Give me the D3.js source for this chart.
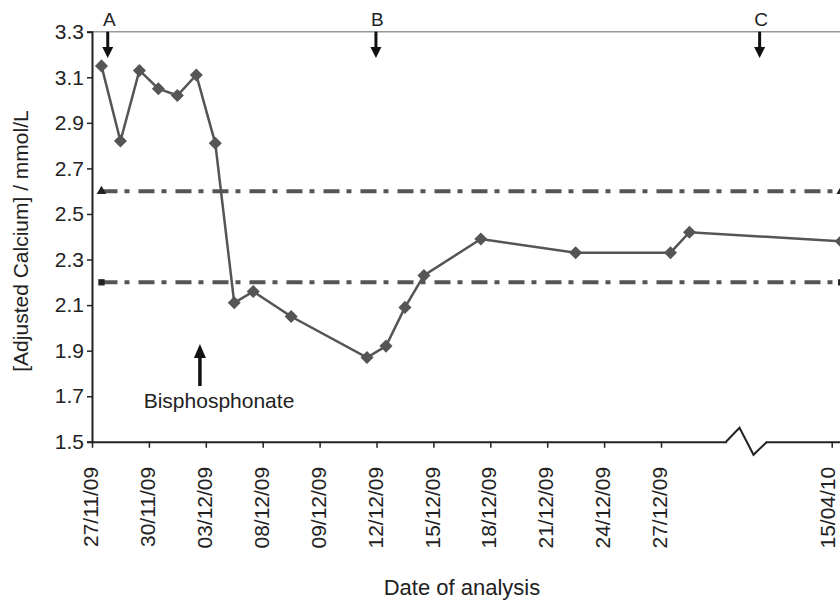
<!DOCTYPE html>
<html>
<head>
<meta charset="utf-8">
<script src="https://cdn.jsdelivr.net/npm/d3@7"></script>
<style>
  body { margin: 0; background: #fff; }
  svg { display: block; font-family: "Liberation Sans", Arial, sans-serif; }
</style>
</head>
<body>
<div id="container"></div>
<script>
/* DATA */
// category slot of each measurement (Excel-style category axis)
const slots = [0, 1, 2, 3, 4, 5, 6, 7, 8, 10, 14, 15, 16, 17, 20, 25, 30, 31, 39];
const calcium = [3.15, 2.82, 3.13, 3.05, 3.02, 3.11, 2.81, 2.11, 2.16, 2.05, 1.87, 1.92, 2.09, 2.23, 2.39, 2.33, 2.33, 2.42, 2.38];

const tickSlots = [0, 3, 6, 9, 12, 15, 18, 21, 24, 27, 30, 39];
const tickLabels = ["27/11/09", "30/11/09", "03/12/09", "08/12/09", "09/12/09", "12/12/09",
  "15/12/09", "18/12/09", "21/12/09", "24/12/09", "27/12/09", "15/04/10"];

const yTicks = [1.5, 1.7, 1.9, 2.1, 2.3, 2.5, 2.7, 2.9, 3.1, 3.3];

const refUpper = 2.6;
const refLower = 2.2;
const refSlots = [0, 39];

const markLabels = ["A", "B", "C"];
const markSlots = [0.83, 14.97, 35.2];
const drugSlot = 5.69;

/* CONSTANTS */
const width = 840;
const height = 602;
const left = 92;
const slotW = 18.967;

const svg = d3.select("#container")
  .append("svg")
  .attr("width", width)
  .attr("height", height);

/* SCALES */
const xScale = d3.scaleLinear()
  .domain([0, 40])
  .range([left, left + 40 * slotW]);

const yScale = d3.scaleLinear()
  .domain([1.5, 3.3])
  .range([441.8, 31.7]);

const ink = "#222";
const grey = "#555";

// top border line at 3.3
svg.append("line")
  .attr("x1", xScale(0)).attr("x2", width)
  .attr("y1", yScale(3.3)).attr("y2", yScale(3.3))
  .attr("stroke", "#999").attr("stroke-width", 1.5);

/* AXES */
const yAxis = d3.axisLeft(yScale)
  .tickValues(yTicks)
  .tickFormat(d3.format(".1f"))
  .tickSize(5)
  .tickPadding(3);
const gy = svg.append("g")
  .attr("transform", `translate(${left},0)`)
  .call(yAxis);
gy.select(".domain").attr("stroke", ink).attr("stroke-width", 2);
gy.selectAll(".tick line").attr("stroke", ink).attr("stroke-width", 1.5);
gy.selectAll(".tick text").attr("fill", ink).style("font-size", "21px");

const xAxis = d3.axisBottom(xScale)
  .tickValues(tickSlots)
  .tickFormat((d, i) => tickLabels[i])
  .tickSize(6)
  .tickSizeOuter(0);
const gx = svg.append("g")
  .attr("transform", `translate(0,${yScale(1.5)})`)
  .call(xAxis);
gx.select(".domain").attr("stroke", ink).attr("stroke-width", 2);
gx.selectAll(".tick line").attr("stroke", ink).attr("stroke-width", 1.5);
gx.selectAll(".tick text")
  .attr("fill", ink)
  .style("font-size", "21px")
  .attr("text-anchor", "end")
  .attr("transform", "rotate(-90)")
  .attr("x", -25)
  .attr("y", 0)
  .attr("dy", (d, i) => i === tickSlots.length - 1 ? "0.12em" : "0.27em");

// axis break
const yb = yScale(1.5);
svg.append("rect")
  .attr("x", 727).attr("y", yb - 3)
  .attr("width", 39).attr("height", 6)
  .attr("fill", "#fff");
svg.append("path")
  .attr("d", `M726,${yb} L739.5,${yb - 14} L753.5,${yb + 13} L767,${yb}`)
  .attr("fill", "none")
  .attr("stroke", ink)
  .attr("stroke-width", 2);

/* REFERENCE LINES */
[[refUpper, d3.symbolTriangle], [refLower, d3.symbolSquare]].forEach(([v, sym]) => {
  svg.append("line")
    .attr("x1", xScale(refSlots[0] + 0.5)).attr("x2", xScale(refSlots[1] + 0.5))
    .attr("y1", yScale(v)).attr("y2", yScale(v))
    .attr("stroke", grey)
    .attr("stroke-width", 4)
    .attr("stroke-dasharray", "16,7,5,9");
  svg.selectAll(null)
    .data(refSlots)
    .join("path")
    .attr("d", d3.symbol(sym, 40))
    .attr("transform", d => `translate(${xScale(d + 0.5)},${yScale(v)})`)
    .attr("fill", ink);
});

/* SERIES */
const pts = slots.map((s, i) => [s, calcium[i]]);
svg.append("path")
  .datum(pts)
  .attr("fill", "none")
  .attr("stroke", grey)
  .attr("stroke-width", 2.5)
  .attr("d", d3.line().x(d => xScale(d[0] + 0.5)).y(d => yScale(d[1])));

svg.selectAll(".pt")
  .data(pts)
  .join("path")
  .attr("class", "pt")
  .attr("d", d3.symbol(d3.symbolSquare, 85))
  .attr("transform", d => `translate(${xScale(d[0] + 0.5)},${yScale(d[1])}) rotate(45)`)
  .attr("fill", grey);

/* ANNOTATIONS */
function arrow(x, y0, y1, headW, headL, w) {
  const dir = y1 > y0 ? 1 : -1;
  const g = svg.append("g");
  g.append("line")
    .attr("x1", x).attr("x2", x)
    .attr("y1", y0).attr("y2", y1 - dir * headL)
    .attr("stroke", "#111").attr("stroke-width", w);
  g.append("path")
    .attr("d", `M${x - headW / 2},${y1 - dir * headL} L${x + headW / 2},${y1 - dir * headL} L${x},${y1} Z`)
    .attr("fill", "#111");
}

markSlots.forEach((s, i) => {
  const x = xScale(s);
  arrow(x, yScale(3.3), 58, 11, 11, 3);
  svg.append("text")
    .attr("x", x + 1.5)
    .attr("y", 25.5)
    .attr("text-anchor", "middle")
    .attr("fill", ink)
    .style("font-size", "19px")
    .text(markLabels[i]);
});

arrow(xScale(drugSlot), 386, 344, 12, 14, 3.5);
svg.append("text")
  .attr("x", 219)
  .attr("y", 408)
  .attr("text-anchor", "middle")
  .attr("fill", ink)
  .style("font-size", "21px")
  .text("Bisphosphonate");

/* TITLES */
svg.append("text")
  .attr("x", 462)
  .attr("y", 595)
  .attr("text-anchor", "middle")
  .attr("fill", ink)
  .style("font-size", "22px")
  .text("Date of analysis");

svg.append("text")
  .attr("transform", "translate(28,241) rotate(-90)")
  .attr("text-anchor", "middle")
  .attr("fill", ink)
  .style("font-size", "21px")
  .text("[Adjusted Calcium] / mmol/L");
</script>
</body>
</html>
